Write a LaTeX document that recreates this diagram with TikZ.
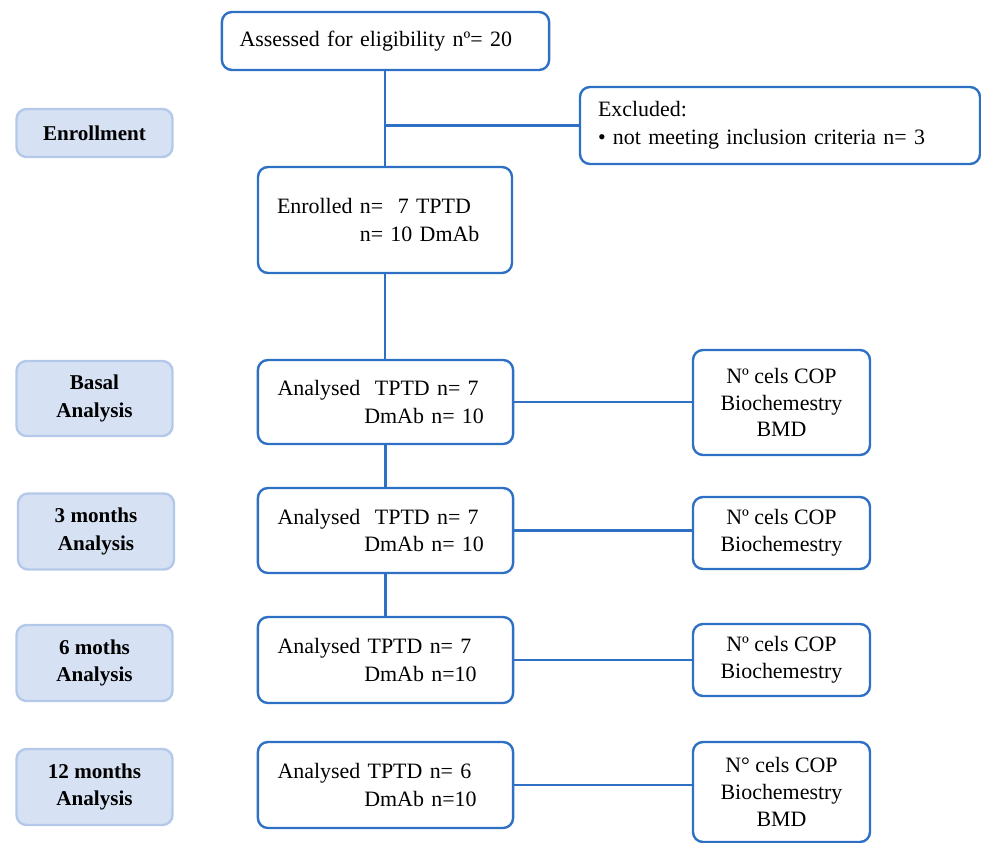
\documentclass[tikz,border=0pt]{standalone}
\usepackage{fontspec}
\setmainfont{LiberationSerif}[Extension=.ttf, UprightFont=*-Regular, BoldFont=*-Bold, ItalicFont=*-Italic, BoldItalicFont=*-BoldItalic]
\usepackage{tikz}

\definecolor{boxblue}{RGB}{46,112,196}
\definecolor{stagefill}{RGB}{214,226,243}
\definecolor{stageline}{RGB}{180,201,234}

\tikzset{
  flow/.style={draw=boxblue, line width=1.7pt, rounded corners=0.25cm, fill=white,
    font=\fontsize{15.6}{19.8}\selectfont},
  stage/.style={draw=stageline, line width=1.7pt, rounded corners=0.25cm, fill=stagefill,
    minimum width=3.9cm, align=center, font=\fontsize{15}{19.8}\selectfont\bfseries},
  link/.style={draw=boxblue, line width=1.7pt}
}

\begin{document}
\begin{tikzpicture}
  \useasboundingbox (0,0) rectangle (24.525,-21.075);

  \node[flow, minimum width=8.175cm, minimum height=1.45cm, text width=7.3cm, align=left, inner xsep=0.44cm]
    (assess) at (9.6375,-1.025) {Assessed for eligibility nº= 20};
  \node[flow, minimum width=10cm, minimum height=1.925cm, text width=9.1cm, align=left, inner xsep=0.45cm]
    (excl) at (19.5,-3.1375) {Excluded:\\ • not meeting inclusion criteria n= 3};
  \node[flow, minimum width=6.35cm, minimum height=2.65cm, text width=5.4cm, align=left, inner xsep=0.47cm]
    (enrol) at (9.625,-5.5) {Enrolled n= \ 7 TPTD\\ \hspace*{2.07cm}n= 10 DmAb};

  \node[flow, minimum width=6.375cm, minimum height=2.1cm, text width=5.4cm, align=left, inner xsep=0.49cm]
    (an0) at (9.6375,-10.05) {Analysed \ TPTD n= 7\\ \hspace*{2.17cm}DmAb n= 10};
  \node[flow, minimum width=6.375cm, minimum height=2.125cm, text width=5.4cm, align=left, inner xsep=0.49cm]
    (an3) at (9.6375,-13.2625) {Analysed \ TPTD n= 7\\ \hspace*{2.17cm}DmAb n= 10};
  \node[flow, minimum width=6.375cm, minimum height=2.15cm, text width=5.4cm, align=left, inner xsep=0.49cm]
    (an6) at (9.6375,-16.5) {Analysed TPTD n= 7\\ \hspace*{2.17cm}DmAb n=10};
  \node[flow, minimum width=6.375cm, minimum height=2.15cm, text width=5.4cm, align=left, inner xsep=0.49cm]
    (an12) at (9.6375,-19.625) {Analysed TPTD n= 6\\ \hspace*{2.17cm}DmAb n=10};

  \node[flow, minimum width=4.425cm, minimum height=2.625cm, align=center, font=\fontsize{15.6}{19}\selectfont]
    (res0) at (19.5375,-10.0625) {Nº cels COP\\ Biochemestry\\ BMD};
  \node[flow, minimum width=4.425cm, minimum height=1.8cm, align=center, font=\fontsize{15.6}{19}\selectfont]
    (res3) at (19.5375,-13.325) {Nº cels COP\\ Biochemestry};
  \node[flow, minimum width=4.425cm, minimum height=1.8cm, align=center, font=\fontsize{15.6}{19}\selectfont]
    (res6) at (19.5375,-16.5) {Nº cels COP\\ Biochemestry};
  \node[flow, minimum width=4.425cm, minimum height=2.5cm, align=center, font=\fontsize{15.6}{19}\selectfont]
    (res12) at (19.5375,-19.8) {N° cels COP\\ Biochemestry\\ BMD};

  \node[stage, minimum height=1.2cm] (st0) at (2.3625,-3.325) {Enrollment};
  \node[stage, minimum height=1.875cm] (st1) at (2.3625,-9.9625) {Basal\\ Analysis};
  \node[stage, minimum height=1.9cm] (st2) at (2.4,-13.2875) {3 months\\ Analysis};
  \node[stage, minimum height=1.9cm] (st3) at (2.3625,-16.575) {6 moths\\ Analysis};
  \node[stage, minimum height=1.9cm] (st4) at (2.3625,-19.675) {12 months\\ Analysis};

  \draw[link] (assess.south -| enrol.north) -- (enrol.north);
  \draw[link] (excl.west -| enrol.north) -- (excl.west);
  \draw[link] (enrol.south) -- (enrol.south |- an0.north);
  \draw[link] (an0.south) -- (an0.south |- an3.north);
  \draw[link] (an3.south) -- (an3.south |- an6.north);
  \draw[link] (an0.east) -- (an0.east -| res0.west);
  \draw[link] (an3.east) -- (an3.east -| res3.west);
  \draw[link] (an6.east) -- (an6.east -| res6.west);
  \draw[link] (an12.east) -- (an12.east -| res12.west);
\end{tikzpicture}
\end{document}
